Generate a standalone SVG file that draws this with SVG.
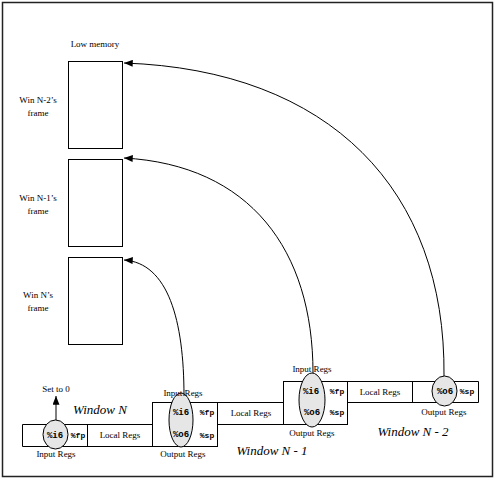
<svg xmlns="http://www.w3.org/2000/svg" width="495" height="479" viewBox="0 0 495 479">
<style>
.lbl{font-family:"Liberation Serif",serif;font-size:9px;fill:#000;text-anchor:middle}
.reg{font-family:"Liberation Mono",monospace;font-size:9px;font-weight:bold;fill:#000;text-anchor:middle}
.sm{font-family:"Liberation Mono",monospace;font-size:8px;font-weight:bold;fill:#000;text-anchor:middle}
.win{font-family:"Liberation Serif",serif;font-size:13px;font-style:italic;fill:#000;text-anchor:middle}
.box{fill:none;stroke:#000;stroke-width:1}
.ell{fill:#e6e6e6;stroke:#000;stroke-width:1}
.con{fill:none;stroke:#000;stroke-width:1}
</style>
<defs>
<marker id="ah" viewBox="0 0 10 8" refX="10" refY="4" markerWidth="9" markerHeight="7" markerUnits="userSpaceOnUse" orient="auto">
<path d="M0,0 L10,4 L0,8 Z" fill="#000"/>
</marker>
</defs>
<rect x="2.5" y="2.5" width="490" height="474" fill="#fff" stroke="#222" stroke-width="1.5"/>
<text class="lbl" x="95" y="47">Low memory</text>
<g id="frameN2">
<rect class="box" x="68.5" y="61.5" width="54" height="87"/>
<text class="lbl" x="38" y="103">Win N-2’s</text>
<text class="lbl" x="38" y="116">frame</text>
</g>
<g id="frameN1">
<rect class="box" x="68.5" y="159.5" width="54" height="87"/>
<text class="lbl" x="38" y="201">Win N-1’s</text>
<text class="lbl" x="38" y="214">frame</text>
</g>
<g id="frameN">
<rect class="box" x="68.5" y="257.5" width="54" height="87"/>
<text class="lbl" x="38" y="298">Win N’s</text>
<text class="lbl" x="38" y="311">frame</text>
</g>
<g id="windowN">
<path class="box" d="M152.5,424.5 H22.5 V446.5 H152.5 M87.5,424.5 V446.5"/>
<ellipse class="ell" cx="55.5" cy="434.5" rx="12.5" ry="14.5"/>
<text class="reg" x="55" y="438">%i6</text>
<text class="sm" x="78" y="438">%fp</text>
<text class="lbl" x="120" y="438">Local Regs</text>
<text class="lbl" x="56" y="457">Input Regs</text>
<text class="lbl" x="56" y="392">Set to 0</text>
<line class="con" x1="56" y1="420" x2="56" y2="396" marker-end="url(#ah)"/>
<text class="win" x="100" y="414">Window N</text>
</g>
<g id="windowN1">
<rect class="box" x="152.5" y="402.5" width="65" height="44"/>
<path class="box" d="M217.5,402.5 H283.5 M217.5,424.5 H283.5"/>
<ellipse class="ell" cx="181" cy="420" rx="12" ry="27"/>
<text class="reg" x="181" y="415">%i6</text>
<text class="sm" x="207" y="415">%fp</text>
<text class="reg" x="181" y="437">%o6</text>
<text class="sm" x="207" y="438">%sp</text>
<text class="lbl" x="183" y="396">Input Regs</text>
<text class="lbl" x="183" y="457">Output Regs</text>
<text class="lbl" x="251" y="416">Local Regs</text>
<text class="win" x="272" y="455">Window N - 1</text>
</g>
<g id="windowN2">
<rect class="box" x="283.5" y="381.5" width="64" height="43"/>
<path class="box" d="M347.5,381.5 H478.5 V402.5 H347.5 M412.5,381.5 V402.5"/>
<ellipse class="ell" cx="312" cy="400" rx="13" ry="27"/>
<text class="reg" x="311" y="394">%i6</text>
<text class="sm" x="337" y="394">%fp</text>
<text class="reg" x="312" y="415">%o6</text>
<text class="sm" x="337" y="415">%sp</text>
<text class="lbl" x="312" y="372">Input Regs</text>
<text class="lbl" x="312" y="436">Output Regs</text>
<text class="lbl" x="380" y="395">Local Regs</text>
<ellipse class="ell" cx="444.5" cy="391" rx="12.5" ry="15"/>
<text class="reg" x="445" y="394">%o6</text>
<text class="sm" x="467" y="394">%sp</text>
<text class="lbl" x="444" y="415">Output Regs</text>
<text class="win" x="413" y="436">Window N - 2</text>
</g>
<g id="connectors">
<path class="con" d="M184,396 C184,320 168,263 124,260" marker-end="url(#ah)"/>
<path class="con" d="M313,373 C313,250 250,165 124,158" marker-end="url(#ah)"/>
<path class="con" d="M444,376 C446,190 330,70 124,63" marker-end="url(#ah)"/>
</g>
</svg>
